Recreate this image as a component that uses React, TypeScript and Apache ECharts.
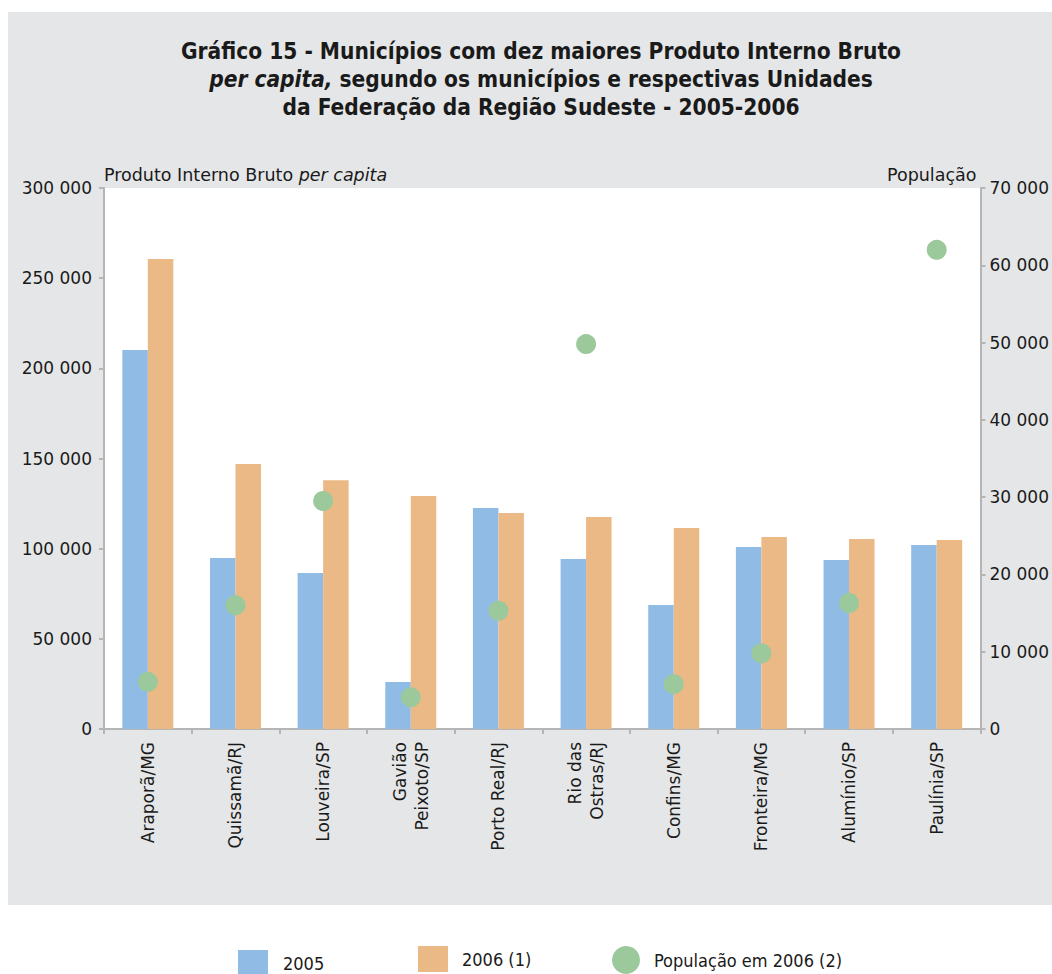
import React, { useEffect, useRef } from "react";
import * as echarts from "echarts";

const categories = [
  "Araporã/MG",
  "Quissamã/RJ",
  "Louveira/SP",
  "Gavião\nPeixoto/SP",
  "Porto Real/RJ",
  "Rio das\nOstras/RJ",
  "Confins/MG",
  "Fronteira/MG",
  "Alumínio/SP",
  "Paulínia/SP",
];
const pib2005 = [210200, 94800, 86500, 26100, 122500, 94300, 68800, 100900, 93700, 102000];
const pib2006 = [260600, 147000, 138000, 129200, 119800, 117600, 111500, 106500, 105400, 104800];
const pop2006 = [6100, 16000, 29500, 4100, 15300, 49800, 5800, 9800, 16300, 62000];

const seriesNames = ["2005", "2006 (1)", "População em 2006 (2)"];
const leftAxisName = "Produto Interno Bruto";
const leftAxisNameItalic = "per capita";
const rightAxisName = "População";

const BLUE = "#8fbbe5";
const ORANGE = "#ebb985";
const GREEN = "#9bc99c";
const AXIS = "#b5b5b5";
const SANS = "DejaVu Sans, Verdana, sans-serif";
const NARROW = "Liberation Sans Narrow, DejaVu Sans Condensed, Arial, sans-serif";

const fmt = (v: number) => String(v).replace(/\B(?=(\d{3})+(?!\d))/g, " ");

export default function App() {
  const ref = useRef<HTMLDivElement>(null);
  useEffect(() => {
    if (!ref.current) return;
    const chart = echarts.init(ref.current, null, { renderer: "svg" });
    chart.setOption({
      animation: false,
      backgroundColor: "#ffffff",
      graphic: [
        {
          type: "rect",
          z: -100,
          silent: true,
          shape: { x: 8, y: 12, width: 1044, height: 893 },
          style: { fill: "#e5e6e7" },
        },
      ],
      title: {
        left: 536,
        top: 32,
        textAlign: "center",
        text:
          "{b|Gráfico 15 - Municípios com dez maiores Produto Interno Bruto}\n" +
          "{bi|per capita,}{b| segundo os municípios e respectivas Unidades}\n" +
          "{b|da Federação da Região Sudeste - 2005-2006}",
        textStyle: {
          rich: {
            b: { fontFamily: NARROW, fontWeight: "bold", fontSize: 22.5, color: "#1a1a1a", lineHeight: 28 },
            bi: { fontFamily: NARROW, fontWeight: "bold", fontStyle: "italic", fontSize: 22.5, color: "#1a1a1a", lineHeight: 28 },
          },
        },
      },
      legend: [
        {
          left: 238,
          top: 950,
          padding: 0,
          data: [seriesNames[0]],
          icon: "rect",
          itemWidth: 30,
          itemHeight: 26,
          textStyle: { fontFamily: NARROW, fontSize: 18, color: "#1a1a1a", padding: [2, 0, 0, 10] },
        },
        {
          left: 418,
          top: 946,
          padding: 0,
          data: [seriesNames[1]],
          icon: "rect",
          itemWidth: 30,
          itemHeight: 26,
          textStyle: { fontFamily: NARROW, fontSize: 18, color: "#1a1a1a", padding: [2, 0, 0, 9] },
        },
        {
          left: 612,
          top: 946,
          padding: 0,
          data: [seriesNames[2]],
          icon: "circle",
          itemWidth: 30,
          itemHeight: 28,
          textStyle: { fontFamily: NARROW, fontSize: 18, color: "#1a1a1a", padding: [0, 0, 0, 8] },
        },
      ],
      grid: {
        left: 104,
        right: 66,
        top: 188,
        bottom: 245,
        show: true,
        backgroundColor: "#ffffff",
        borderWidth: 0,
      },
      xAxis: {
        type: "category",
        data: categories,
        axisLine: { lineStyle: { color: AXIS, width: 2 } },
        axisTick: { show: true, length: 5, lineStyle: { color: AXIS, width: 2 } },
        axisLabel: {
          rotate: 90,
          interval: 0,
          margin: 13,
          fontFamily: SANS,
          fontSize: 17,
          color: "#1a1a1a",
          lineHeight: 22,
        },
      },
      yAxis: [
        {
          type: "value",
          min: 0,
          max: 300000,
          interval: 50000,
          position: "left",
          name: "{n|" + leftAxisName + " }{i|" + leftAxisNameItalic + "}",
          nameLocation: "end",
          nameGap: 4,
          nameTextStyle: {
            align: "left",
            rich: {
              n: { fontFamily: SANS, fontSize: 17.5, color: "#1a1a1a" },
              i: { fontFamily: SANS, fontSize: 17.5, fontStyle: "italic", color: "#1a1a1a" },
            },
          },
          axisLine: { show: true, lineStyle: { color: AXIS, width: 2 } },
          axisTick: { show: true, length: 5, lineStyle: { color: AXIS, width: 2 } },
          splitLine: { show: false },
          axisLabel: { formatter: fmt, margin: 12, fontFamily: SANS, fontSize: 17, color: "#1a1a1a" },
        },
        {
          type: "value",
          min: 0,
          max: 70000,
          interval: 10000,
          position: "right",
          name: rightAxisName,
          nameLocation: "end",
          nameGap: 4,
          nameTextStyle: { align: "right", fontFamily: SANS, fontSize: 17.5, color: "#1a1a1a", padding: [0, 4, 0, 0] },
          axisLine: { show: true, lineStyle: { color: AXIS, width: 2 } },
          axisTick: { show: true, length: 5, lineStyle: { color: AXIS, width: 2 } },
          splitLine: { show: false },
          axisLabel: { formatter: fmt, margin: 9, fontFamily: SANS, fontSize: 17, color: "#1a1a1a" },
        },
      ],
      series: [
        {
          name: seriesNames[0],
          type: "bar",
          data: pib2005,
          barWidth: 25.5,
          barGap: "0%",
          itemStyle: { color: BLUE },
        },
        {
          name: seriesNames[1],
          type: "bar",
          data: pib2006,
          barWidth: 25.5,
          barGap: "0%",
          itemStyle: { color: ORANGE },
        },
        {
          name: seriesNames[2],
          type: "scatter",
          yAxisIndex: 1,
          data: pop2006,
          symbol: "circle",
          symbolSize: 20,
          itemStyle: { color: GREEN, opacity: 1 },
          z: 5,
        },
      ],
    });
    return () => chart.dispose();
  }, []);
  return (
    <div
      ref={ref}
      style={{ position: "absolute", left: 0, top: 0, width: 1052, height: 974 }}
    />
  );
}
